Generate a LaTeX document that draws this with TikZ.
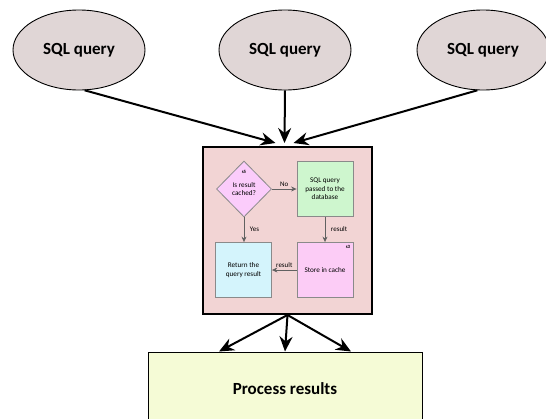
\documentclass[tikz,border=0pt]{standalone}
\usepackage{fontspec}
\setmainfont{Carlito}
\usetikzlibrary{shapes.geometric,arrows.meta,calc}
\definecolor{ellfill}{HTML}{E0D6D6}
\definecolor{boxfill}{HTML}{F2D4D4}
\definecolor{diafill}{HTML}{FBCCFB}
\definecolor{greenfill}{HTML}{CEF6CE}
\definecolor{bluefill}{HTML}{D4F4FC}
\definecolor{storefill}{HTML}{FCCCF6}
\definecolor{procfill}{HTML}{F5FBD6}
\definecolor{innerline}{HTML}{8A8A8A}
\begin{document}
\begin{tikzpicture}[x=1pt,y=-1pt,
  query/.style={ellipse,draw=black,line width=0.9pt,fill=ellfill,minimum width=132,minimum height=80,inner sep=0pt,font=\fontsize{17}{20}\selectfont\bfseries},
  bigarrow/.style={line width=2pt,-{Stealth[length=15pt,width=13pt,inset=5pt]}},
  inbox/.style={rectangle,draw=innerline,line width=0.8pt,minimum width=56,minimum height=55,inner sep=1pt,align=center,font=\fontsize{7.2}{8.6}\selectfont},
  inarrow/.style={draw=innerline!70!black,line width=0.9pt,-{Stealth[length=5.5pt,width=5pt]}},
  small/.style={font=\fontsize{7}{8.4}\selectfont,inner sep=0.5pt},
  tiny/.style={font=\fontsize{4.8}{5.2}\selectfont\bfseries,inner sep=0pt}
]
\useasboundingbox (0,0) rectangle (546,418);
\clip (0,0) rectangle (546,418);

% query ellipses
\node[query] (q1) at (79,50) {SQL query};
\node[query] (q2) at (285,50) {SQL query};
\node[query] (q3) at (483,50) {SQL query};

% main box
\node[rectangle,draw=black,line width=2pt,fill=boxfill,minimum width=169,minimum height=167,inner sep=0pt] (box) at (287.5,230.5) {};

% inner flowchart
\node[diamond,draw=innerline,line width=0.8pt,fill=diafill,minimum width=55,minimum height=56,inner sep=0pt,align=center,font=\fontsize{7.2}{8.6}\selectfont] (dia) at (244,189) {\raisebox{-3pt}{\shortstack{Is result\\cached?}}};
\node[tiny] (s5) at (244,172) {s5};
\node[inbox,fill=greenfill] (sqlp) at (325,189) {SQL query\\passed to the\\database};
\node[inbox,fill=storefill] (store) at (325,270) {Store in cache};
\node[tiny] (s3) at (348,247) {s3};
\node[inbox,fill=bluefill] (ret) at (243.5,270) {Return the\\query result};

\draw[inarrow] (dia.east) -- (sqlp.west) node[small,midway,above=2pt] (lno) {No};
\draw[inarrow] (dia.south) -- (dia.south |- ret.north) node[small,midway,right=5pt] (lyes) {Yes};
\draw[inarrow] (sqlp.south) -- (store.north) node[small,midway,right=5pt] (lres1) {result};
\draw[inarrow] (store.west) -- (ret.east) node[small,midway,above=2pt] (lres2) {result};

% process results
\node[rectangle,draw=black,line width=1pt,fill=procfill,minimum width=274,minimum height=80,inner sep=0pt,font=\fontsize{17}{20}\selectfont\bfseries] (proc) at (285,392) {\raisebox{7pt}{Process results}};

% arrows into box
\coordinate (tl) at ($(box.north)+(-12,-3)$);
\coordinate (tm) at ($(box.north)+(-3,-3)$);
\coordinate (tr) at ($(box.north)+(6,-3)$);
\draw[bigarrow] (q1.-82) -- (tl);
\draw[bigarrow] (q2.south) -- (tm);
\draw[bigarrow] (q3.-98) -- (tr);

% arrows out of box
\draw[bigarrow] (box.south) -- ($(proc.north)+(-66,0)$);
\draw[bigarrow] (box.south) -- ($(proc.north)+(0,0)$);
\draw[bigarrow] (box.south) -- ($(proc.north)+(66,0)$);
\end{tikzpicture}
\end{document}
